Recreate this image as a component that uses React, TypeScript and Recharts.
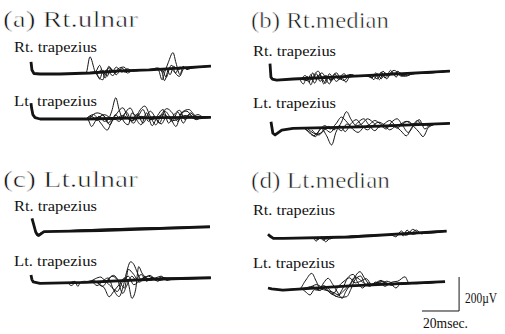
import React from 'react';
import { LineChart, Line, XAxis, YAxis } from 'recharts';

type P = [number, number]; // [time ms, amplitude µV]

// ---- sweep / amplitude scale (from the 20 msec / 200 µV bars) ----
const T_MAX = 97;
const V_RANGE = 200;
const PX_PER_MS = 1.854;
const PX_PER_UV = 0.17;

// ---- (a) Rt.ulnar ----
const aRtBase: P[] = [[0, 65], [0.5, 18], [1.6, -3], [4.9, -6], [15.6, -6], [31.8, 0], [48, 12], [64, 18], [80, 29], [97, 41]];
const aRtSweeps: P[][] = [
  [[0.3, 60], [0.6, 15], [1.6, -5], [5, -8], [28, -2], [29.7, 0], [31.8, 95], [34.5, 10], [36.1, -20], [38.8, -40], [40, 10], [42.6, 30], [45.3, 0], [48, 20], [50.7, 5], [53.4, 15], [58.8, 15], [66, 20], [68.5, 22], [70.7, -40], [72.3, 10], [74, 60], [76.6, 120], [78.2, 60], [80.4, -10], [82, 40], [84.1, 20], [88, 35], [97, 40]],
  [[30, 0], [34, 4], [36, 0], [38, 20], [40, -30], [42, 40], [44, 10], [46, 35], [49, 5], [52, 25], [55, 10], [60, 17], [69, 25], [71, 5], [73, 30], [75, -10], [77, 40], [79, 20], [82, 30], [90, 36], [97, 41]],
  [[30, 0], [33, 3], [35, 5], [37, -35], [39, 15], [41, -20], [43, 25], [46, -10], [49, 30], [52, 0], [55, 15], [62, 18], [70, 25], [72, -45], [74, 20], [76, 45], [78, 0], [80, 35], [84, 25], [90, 35], [97, 40]],
  [[32, 0], [35, 10], [37, 45], [39, 0], [41, 15], [44, -15], [47, 25], [50, 35], [53, 10], [56, 20], [64, 18], [68, 30], [71, 15], [73, -25], [75, 30], [77, 10], [80, -20], [83, 35], [86, 30], [97, 41]],
];

// ---- (a) Lt trapezius ----
const aLtBase: P[] = [[0, 88], [0.3, 60], [1, 20], [2.2, 2], [5, -6], [30, -6], [66, 2], [98, 4]];
const aLtSweeps: P[][] = [
  [[28, -5], [31, -10], [33, -50], [35, -20], [37, 10], [40, -20], [42, -10], [44, 40], [46.2, 119], [48, 50], [50, -10], [53, -40], [55, 30], [58, 10], [61, 50], [64, -20], [67, 10], [70, -30], [73, 40], [76, 0], [79, -50], [82, 30], [85, 40], [88, 10], [91, 20], [94, 5], [98, 4]],
  [[30, -5], [34, 20], [38, -30], [41.5, -71], [44, -20], [47, 30], [50, 60], [53, 0], [56, -30], [59, 40], [62, 70], [65, 10], [68, -40], [71, 20], [74, 55], [77, 30], [80, -20], [83, 40], [86, 50], [90, 10], [98, 4]],
  [[30, -5], [33, 10], [36, -15], [39, 20], [42, -30], [45, 0], [48, -20], [51, 25], [54, 59], [57, 0], [60, -40], [63, 30], [66, -45], [69, 15], [72, 50], [75, -30], [78, 20], [81, 45], [84, -10], [87, 30], [90, 0], [98, 3]],
  [[32, 0], [36, 30], [40, 10], [43, -40], [46, 20], [49, -10], [52, 35], [55, -20], [58, 25], [61, -30], [65, 40], [68, 0], [71, -35], [74, 10], [77, -20], [80, 35], [83, -30], [86, 20], [90, -10], [94, 8], [98, 4]],
  [[33, -5], [37, 5], [40, 20], [45, -10], [50, 15], [55, -15], [60, 10], [66, -10], [72, 20], [78, -15], [84, 15], [90, -5], [98, 4]],
];

// ---- (b) Rt.median ----
const bRtBase: P[] = [[0, 85], [0.5, 5], [1.2, -6], [3.6, -12], [12.6, -6], [48.5, 13], [97, 41]];
const bRtSweeps: P[][] = [
  [[16, -4], [18, -35], [20, 10], [22, -40], [24, 20], [26, 40], [28, 0], [30, -30], [32, 25], [34, 0], [36, -20], [38, 10], [40, 25], [42, 5], [45, 10], [52, 15], [55, 0], [57, 30], [59, 10], [61, 40], [63, 15], [65, 45], [67, 20], [69, 40], [71, 15], [74, 25], [78, 25], [97, 41]],
  [[17, -5], [19, 15], [21, -25], [23, 30], [25, -10], [27, 20], [29, -35], [31, 10], [33, -20], [35, 25], [37, -10], [39, 0], [41, -25], [43, 10], [46, 15], [49, 14], [54, 10], [56, -10], [58, 25], [60, -5], [62, 30], [64, 10], [66, 35], [68, 5], [70, 30], [73, 15], [78, 26], [97, 41]],
  [[17, -6], [20, -15], [22, 20], [24, -30], [26, 10], [28, 30], [30, 0], [32, -35], [34, 15], [36, 30], [38, -5], [40, 10], [44, 20], [47, 10], [50, 15], [55, 5], [57, 20], [59, -10], [61, 20], [63, -5], [65, 25], [68, 30], [71, 10], [75, 30], [80, 28], [97, 40]],
  [[18, -5], [20, 5], [23, -10], [25, 25], [27, -20], [30, 15], [33, -10], [36, 5], [40, -15], [43, 20], [46, 12], [55, 15], [58, -5], [60, 35], [62, 0], [64, 20], [67, 45], [70, 20], [73, 10], [77, 25], [97, 41]],
];

// ---- (b) Lt trapezius ----
const bLtBase: P[] = [[0, 43], [1, -25], [2.2, -35], [5.8, -6], [11.9, 4], [48, 13], [96.5, 33]];
const bLtSweeps: P[][] = [
  [[18, 5], [21, -20], [24, -45], [27, 5], [30, -40], [32.7, -94], [35, -20], [38, 40], [40.8, 102], [43, 60], [46, 20], [49, 30], [52, 60], [55, 40], [58, 10], [61, 30], [64, 50], [67, 20], [70, -10], [73, -40], [76, 10], [79, 50], [82, 20], [85, 30], [90, 28], [96.5, 33]],
  [[18, 5], [20, -15], [23, -40], [26, -10], [29, 20], [32, 0], [35, 30], [38, 70], [41, 40], [44, 10], [47, 40], [50, 60], [53, 20], [56, -10], [59, 20], [62, 0], [65, 40], [68, 60], [71, 20], [74, -20], [77, 20], [80, 55], [83, 0], [86, 25], [90, 30], [96.5, 33]],
  [[20, 0], [23, -25], [26, -35], [29, 0], [32, -20], [35, 10], [38, -10], [41, 30], [44, 0], [47, -20], [50, 10], [53, 25], [56, 50], [59, 30], [62, 10], [65, 25], [68, 5], [71, 30], [74, 45], [77, 15], [80, -20], [82, -45], [85, 10], [90, 30], [96.5, 33]],
  [[22, -5], [25, -30], [28, -15], [31, 15], [34, -5], [37, 20], [40, -15], [43, 30], [46, 55], [49, 20], [52, -5], [55, 20], [58, 40], [61, 25], [64, -5], [67, 15], [70, 30], [73, 45], [76, 30], [80, 35], [85, 20], [90, 32], [96.5, 33]],
];

// ---- (c) Lt.ulnar ----
const cRtBase: P[] = [[0, 80], [1, 40], [2, 0], [2.8, -15], [3.7, -20], [5, -10], [6.5, 2], [37, 8], [96, 31]];
const cRtSweeps: P[][] = [
  [[0.5, 70], [1.5, 25], [2.5, -5], [3.5, -12], [5, -3], [7, 2], [96, 30]],
  [[0, 75], [1.2, 30], [2.2, -10], [3.2, -25], [4.2, -18], [6, 0], [96, 32]],
];

// ---- (c) Lt trapezius ----
const cLtBase: P[] = [[0, 47], [0.5, 20], [1.2, 7], [4.9, -2], [30, 4], [66, 22], [98, 31]];
const cLtSweeps: P[][] = [
  [[22, 5], [24, 10], [25.5, -20], [27, 5], [29, 10], [33, 8], [36, -15], [39, 10], [42, 30], [45, -40], [48, -80], [50, -30], [52, 60], [54.3, 125], [56, 110], [58, 60], [60, 20], [62, 40], [64, 25], [67, 30], [70, 15], [74, 25], [80, 26], [98, 31]],
  [[30, 5], [34, 15], [37, -5], [40, -30], [42.6, -81], [45, -50], [48, -10], [51, 30], [53, 0], [55, -90], [57, -40], [58.7, 96], [60.4, 60], [62, 35], [65, 15], [68, 30], [71, 40], [74, 15], [78, 25], [98, 31]],
  [[32, 5], [35, 25], [38, 35], [41, 10], [44, 40], [47, 20], [50, -61], [52, -20], [55, 40], [57, 20], [60, 50], [63, 10], [66, 35], [69, 10], [72, 30], [76, 20], [98, 31]],
  [[36, 5], [39, -20], [42, 20], [45, 45], [48, 10], [51, -30], [53, 80], [56, 50], [59, 5], [62, 30], [65, 45], [68, 15], [71, 35], [75, 25], [98, 31]],
  [[20, 2], [22, -15], [24, 0], [40, 10], [44, -25], [47, -50], [50, 10], [53, 40], [56, -10], [60, 20], [64, 40], [68, 20], [73, 30], [98, 31]],
];

// ---- (d) Lt.median ----
const dRtBase: P[] = [[0, 10], [1, 0], [2.9, -14], [8.3, -14], [44, -6], [96.4, 29]];
const dRtSweeps: P[][] = [
  [[8, -14], [24, -10], [26, -30], [28, -10], [30, -25], [32, -8], [40, -7], [70, 12], [72, 30], [74, 5], [76, 25], [78, 10], [82, 20], [96, 29]],
  [[8, -13], [24, -10], [27, -20], [29, -5], [31, -34], [34, -10], [66, 8], [69, -5], [71, 20], [73, 0], [75, 35], [77, 15], [80, 35], [83, 12], [85, 25], [96, 30]],
  [[8, -13], [25, -11], [28, -15], [33, -18], [36, -8], [68, 10], [72, 15], [75, 5], [78, 39], [81, 20], [84, 15], [96, 28]],
];

// ---- (d) Lt trapezius ----
const dLtBase: P[] = [[0, 0], [2, -5], [8, -12], [44, 12], [95.5, 37]];
const dLtSweeps: P[][] = [
  [[8, -10], [17, -5], [20, 40], [23.6, 86], [26, 40], [28, 0], [30, 30], [32.4, 57], [35, 20], [37.8, -30], [40, -61], [42, -20], [45, 30], [49.6, 96], [52, 60], [55, 20], [58, 30], [61, 45], [64, 20], [67, 35], [70, 40], [73.9, 66], [76, 30], [80, 25], [95, 37]],
  [[8, -12], [18, -5], [20, -20], [22.7, -41], [25, -10], [28, -15], [31, 10], [34, -20], [37, -50], [40, -10], [43, 60], [46, 80], [48, 40], [51, 0], [54, 30], [57, 15], [60, 35], [63, 10], [66, 25], [69, 0], [72, 30], [76, 25], [95, 37]],
  [[18, -2], [20, 0], [24, 10], [27, -10], [30, 15], [33, -25], [36, -45], [39, -55], [42.4, -51], [45, 0], [47, 50], [50, 70], [52, 30], [55, 10], [58, 35], [61, 20], [64, 40], [68, 25], [72, 20], [78, 28], [95, 37]],
  [[20, -1], [22, 0], [26, 20], [29, 5], [32, -15], [35, -35], [38, 10], [41, 40], [44, 60], [47, 30], [50, 40], [53, 55], [56, 20], [59, 25], [63, 30], [67, 15], [70, 30], [75, 28], [95, 37]],
  [[22, 0], [25, 0], [30, -10], [35, -25], [38, -40], [41, -15], [44, 20], [47, 65], [50, 45], [53, 20], [57, 25], [62, 40], [66, 20], [72, 25], [95, 37]],
];

// ---- calibration bar: 20 msec x 200 µV ----
const scaleBar: P[] = [[20, 200], [20, 0], [0, 0]];

// ---- text ----
const panelTitles = ['(a) Rt.ulnar', '(b) Rt.median', '(c) Lt.ulnar', '(d) Lt.median'];
const muscleLabels = ['Rt. trapezius', 'Lt. trapezius'];
const ampLabel = '200µV';
const timeLabel = '20msec.';

// ---- layout (pixel positions of each trace's start & zero level) ----
const traceLayout = [
  { key: 'aRt', left: 31, zero: 73, base: aRtBase, sweeps: aRtSweeps },
  { key: 'aLt', left: 31, zero: 118, base: aLtBase, sweeps: aLtSweeps },
  { key: 'bRt', left: 270, zero: 78, base: bRtBase, sweeps: bRtSweeps },
  { key: 'bLt', left: 271, zero: 129, base: bLtBase, sweeps: bLtSweeps },
  { key: 'cRt', left: 31.5, zero: 232, base: cRtBase, sweeps: cRtSweeps },
  { key: 'cLt', left: 31, zero: 283, base: cLtBase, sweeps: cLtSweeps },
  { key: 'dRt', left: 268, zero: 236, base: dRtBase, sweeps: dRtSweeps },
  { key: 'dLt', left: 268, zero: 288, base: dLtBase, sweeps: dLtSweeps },
];

const toRows = (pts: P[]) => pts.map(([t, v]) => ({ t, v }));
const INK = '#141414';
const M = 6;

function Trace({ left, zero, base, sweeps }: { left: number; zero: number; base: P[]; sweeps: P[][] }) {
  const w = T_MAX * PX_PER_MS + 2 * M;
  const h = 2 * V_RANGE * PX_PER_UV + 2 * M;
  return (
    <div style={{ position: 'absolute', left: left - M, top: zero - V_RANGE * PX_PER_UV - M }}>
      <LineChart width={w} height={h} margin={{ top: M, right: M, bottom: M, left: M }}>
        <XAxis type="number" dataKey="t" domain={[0, T_MAX]} hide />
        <YAxis type="number" dataKey="v" domain={[-V_RANGE, V_RANGE]} hide />
        {sweeps.map((s, i) => (
          <Line key={i} data={toRows(s)} dataKey="v" type="monotone" stroke={INK} strokeWidth={1}
            dot={false} activeDot={false} isAnimationActive={false} />
        ))}
        <Line data={toRows(base)} dataKey="v" type="linear" stroke={INK} strokeWidth={2.8}
          dot={false} activeDot={false} isAnimationActive={false} strokeLinejoin="round" />
      </LineChart>
    </div>
  );
}

function ScaleBar() {
  const w = 20 * PX_PER_MS + 2 * M;
  const h = 200 * PX_PER_UV + 2 * M;
  return (
    <div style={{ position: 'absolute', left: 422 - M, top: 277 - M }}>
      <LineChart width={w} height={h} margin={{ top: M, right: M, bottom: M, left: M }}>
        <XAxis type="number" dataKey="t" domain={[0, 20]} hide />
        <YAxis type="number" dataKey="v" domain={[0, 200]} hide />
        <Line data={toRows(scaleBar)} dataKey="v" type="linear" stroke={INK} strokeWidth={1}
          dot={false} activeDot={false} isAnimationActive={false} />
      </LineChart>
    </div>
  );
}

const FONT = '"Liberation Serif", "DejaVu Serif", serif';
const titleFont = { fontFamily: FONT, fontSize: 23, fill: '#111', stroke: '#fff', strokeWidth: 0.55, paintOrder: 'fill stroke' as any };
const labelFont = { fontFamily: FONT, fontSize: 14, fill: '#111' };

export default function App() {
  return (
    <div style={{ position: 'absolute', left: 0, top: 0, width: 505, height: 334, background: '#fff', overflow: 'hidden' }}>
      {traceLayout.map((tr) => (
        <Trace key={tr.key} left={tr.left} zero={tr.zero} base={tr.base} sweeps={tr.sweeps} />
      ))}
      <ScaleBar />
      <svg width={505} height={334} style={{ position: 'absolute', left: 0, top: 0, pointerEvents: 'none' }}>
        <text x={3} y={27} {...titleFont} textLength={135} lengthAdjust="spacingAndGlyphs">{panelTitles[0]}</text>
        <text x={251} y={28} {...titleFont} textLength={138} lengthAdjust="spacingAndGlyphs">{panelTitles[1]}</text>
        <text x={3} y={187} {...titleFont} textLength={135} lengthAdjust="spacingAndGlyphs">{panelTitles[2]}</text>
        <text x={251} y={188} {...titleFont} textLength={139} lengthAdjust="spacingAndGlyphs">{panelTitles[3]}</text>

        <text x={14} y={52} {...labelFont} textLength={83} lengthAdjust="spacingAndGlyphs">{muscleLabels[0]}</text>
        <text x={14} y={106} {...labelFont} textLength={83} lengthAdjust="spacingAndGlyphs">{muscleLabels[1]}</text>
        <text x={253} y={56} {...labelFont} textLength={83} lengthAdjust="spacingAndGlyphs">{muscleLabels[0]}</text>
        <text x={253} y={108} {...labelFont} textLength={83} lengthAdjust="spacingAndGlyphs">{muscleLabels[1]}</text>
        <text x={14} y={211} {...labelFont} textLength={83} lengthAdjust="spacingAndGlyphs">{muscleLabels[0]}</text>
        <text x={14} y={266} {...labelFont} textLength={83} lengthAdjust="spacingAndGlyphs">{muscleLabels[1]}</text>
        <text x={253} y={215} {...labelFont} textLength={82} lengthAdjust="spacingAndGlyphs">{muscleLabels[0]}</text>
        <text x={253} y={268} {...labelFont} textLength={82} lengthAdjust="spacingAndGlyphs">{muscleLabels[1]}</text>

        <text x={465} y={303} {...labelFont} fontSize={14} textLength={32} lengthAdjust="spacingAndGlyphs">{ampLabel}</text>
        <text x={423} y={328} {...labelFont} fontSize={14} textLength={45} lengthAdjust="spacingAndGlyphs">{timeLabel}</text>
      </svg>
    </div>
  );
}
